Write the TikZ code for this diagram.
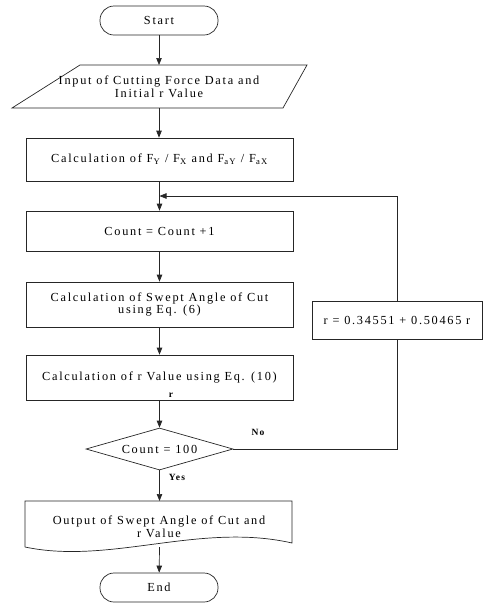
\documentclass[tikz,border=0pt]{standalone}
\usepackage{fontspec}
\setmainfont{Liberation Serif}[LetterSpace=14]
\usetikzlibrary{shapes.geometric,arrows.meta}
\begin{document}
\begin{tikzpicture}[x=1pt,y=1pt,
  every node/.style={font=\fontsize{12.3}{12.8}\selectfont, inner sep=0pt},
  ln/.style={line width=0.7pt, draw=black!85},
  arr/.style={ln, -{Triangle[length=7pt,width=5.5pt]}},
  box/.style={ln, draw, rectangle, minimum width=267pt, align=center},
  term/.style={ln, draw, rectangle, rounded corners=14pt, minimum width=118pt, minimum height=29pt},
  lbl/.style={font=\fontsize{9.5}{10}\selectfont\bfseries}]
\useasboundingbox (0,0) rectangle (495,-603);
% start
\node[term] (start) at (159,-20.5) {Start};
% input parallelogram
\draw[ln] (80,-65) -- (307,-65) -- (283,-108) -- (12,-108) -- cycle;
\node[align=center] (inp) at (159,-86.5) {Input of Cutting Force Data and\\Initial r Value};
\coordinate (inpT) at (159,-65);
\coordinate (inpB) at (159,-108);
% boxes
\node[box, minimum height=43pt] (calc) at (159.5,-159.5) {Calculation of F\textsubscript{Y} / F\textsubscript{X} and F\textsubscript{aY} / F\textsubscript{aX}};
\node[box, minimum height=40pt] (count) at (159.5,-231) {Count = Count +1};
\node[box, minimum height=45pt] (swept) at (159.5,-304.5) {Calculation of Swept Angle of Cut\\using Eq. (6)};
\node[box, minimum height=45pt] (rval) at (159.5,-377.5) {Calculation of r Value using Eq. (10)};
\node[ln, draw, diamond, aspect=3.5, minimum width=147pt, minimum height=42pt] (dec) at (159.5,-449) {Count = 100};
\node[ln, draw, rectangle, minimum width=170pt, minimum height=38pt] (rbox) at (397,-320) {r = 0.34551 + 0.50465 r};
% output document shape
\draw[ln] (25,-547) -- (25,-501) -- (292,-501) -- (292,-543) .. controls (200,-522) and (110,-565) .. (25,-547);
\node[align=center] (out) at (159,-527) {Output of Swept Angle of Cut and\\r Value};
\coordinate (outT) at (159.5,-501);
\coordinate (outB) at (159.5,-547);
\node[term] (end) at (159,-587.5) {End};
% junction
\coordinate (junc) at (159.5,-196);
\coordinate (loopTR) at (397,-196);
\coordinate (loopBR) at (397,-449);
% connectors
\draw[arr] (start.south -| inpT) -- (inpT);
\draw[arr] (inpB) -- (calc.north -| inpB);
\draw[arr] (calc) -- (count);
\draw[arr] (count) -- (swept);
\draw[arr] (swept) -- (rval);
\draw[arr] (rval) -- (dec);
\draw[arr] (dec) -- (outT);
\draw[arr] (outB) -- (end);
\draw[ln] (dec.east) -- (loopBR) -- (rbox.south);
\draw[arr] (rbox.north) -- (loopTR) -- (junc);
% labels
\node[lbl] (lr) at (171,-395) {r};
\node[lbl] (lno) at (258,-432) {No};
\node[lbl] (lyes) at (177,-477) {Yes};
\end{tikzpicture}
\end{document}
